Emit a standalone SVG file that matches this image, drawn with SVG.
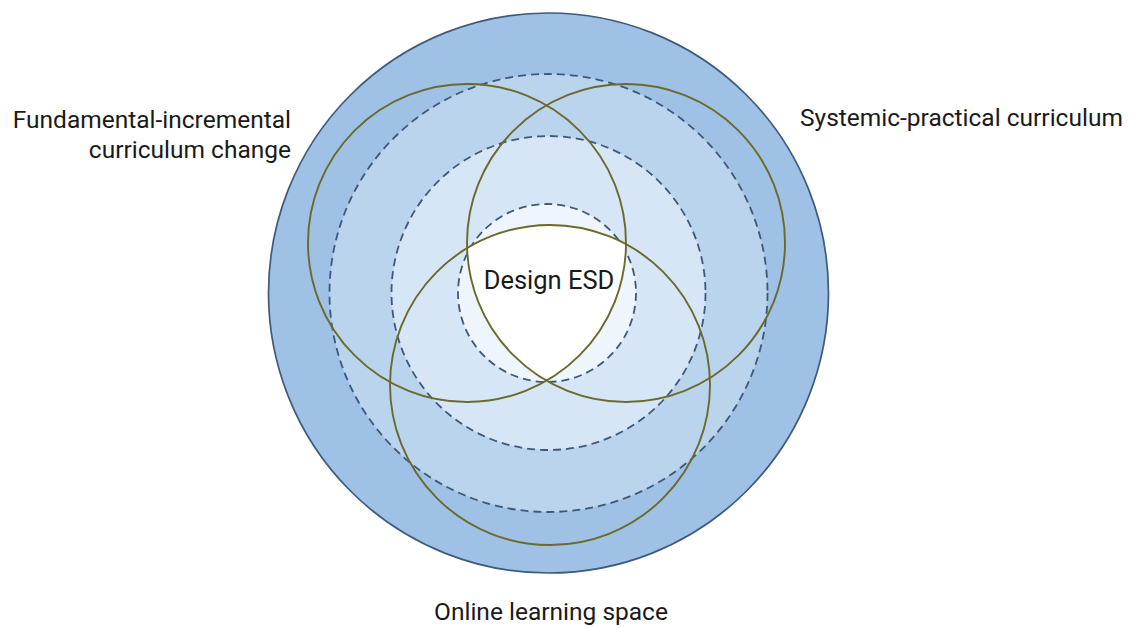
<svg xmlns="http://www.w3.org/2000/svg" width="1133" height="628" viewBox="0 0 1133 628">
  <style>
    .label { font-family: Roboto, "Liberation Sans", Arial, sans-serif; font-size: 24.5px; fill: #1a1a1a; }
    .ring-solid { stroke: #3f5b7c; stroke-width: 1.7; }
    .ring-dash { stroke: #3d5878; stroke-width: 1.8; stroke-dasharray: 8 5; }
    .venn { fill: none; stroke: #6a6a2c; stroke-width: 1.9; }
  </style>
  <defs>
    <clipPath id="clipA"><circle cx="467" cy="243" r="159"/></clipPath>
    <clipPath id="clipB"><circle cx="626" cy="243" r="159"/></clipPath>
  </defs>
  <rect width="1133" height="628" fill="#ffffff"/>

  <!-- concentric learning-space layers -->
  <g id="layers">
    <circle id="layer-outer" class="ring-solid" cx="548.5" cy="293" r="280" fill="#9ec1e5"/>
    <circle id="layer-2" class="ring-dash" cx="548.5" cy="293" r="219" fill="#bbd4ee"/>
    <circle id="layer-3" class="ring-dash" cx="548.5" cy="293" r="157" fill="#d6e6f6"/>
    <circle id="layer-core" class="ring-dash" cx="547" cy="293" r="89" fill="#eef5fc"/>
  </g>

  <!-- central overlap of all three curriculum circles -->
  <g id="overlap-center" clip-path="url(#clipA)">
    <g clip-path="url(#clipB)">
      <circle cx="550" cy="385" r="160" fill="#ffffff"/>
    </g>
  </g>

  <!-- curriculum circles -->
  <g id="circle-fundamental"><circle class="venn" cx="467" cy="243" r="159"/></g>
  <g id="circle-systemic"><circle class="venn" cx="626" cy="243" r="159"/></g>
  <g id="circle-online"><circle class="venn" cx="550" cy="385" r="160"/></g>

  <g id="connectors"></g>

  <!-- labels -->
  <g id="label-center"><text class="label" x="549" y="289" text-anchor="middle" style="font-size:25.5px">Design ESD</text></g>
  <g id="label-fundamental">
    <text class="label" x="291" y="128" text-anchor="end">Fundamental-incremental</text>
    <text class="label" x="291" y="158" text-anchor="end">curriculum change</text>
  </g>
  <g id="label-systemic"><text class="label" x="800" y="126">Systemic-practical curriculum</text></g>
  <g id="label-online"><text class="label" x="551" y="620" text-anchor="middle">Online learning space</text></g>
</svg>
